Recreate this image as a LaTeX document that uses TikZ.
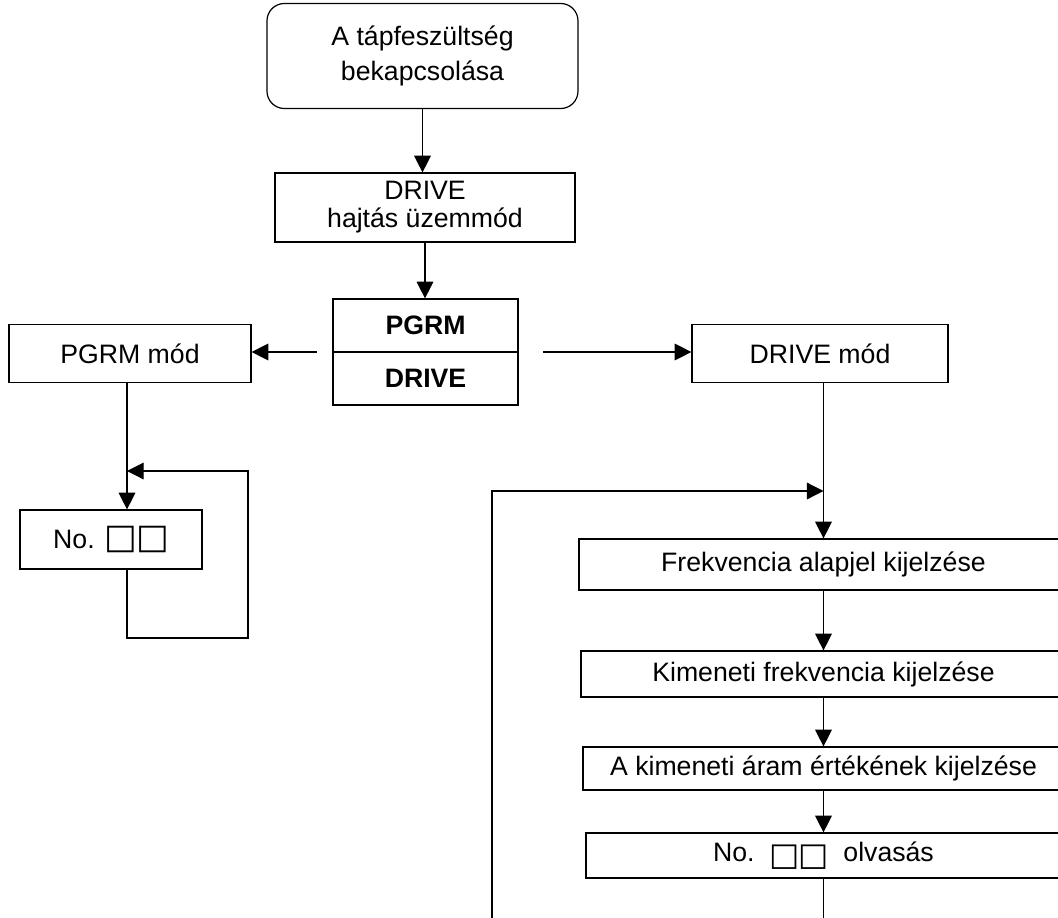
\documentclass[tikz,border=0pt]{standalone}
\usepackage{fontspec}
\setmainfont{Liberation Sans}
\newfontfamily\sqfont{DejaVu Sans}
\usetikzlibrary{arrows.meta}

\begin{document}
\begin{tikzpicture}[x=0.75pt,y=0.75pt,yscale=-1,xscale=1,
  box/.style={draw, line width=0.9pt, inner sep=0pt, align=center, font=\fontsize{20}{21}\selectfont},
  arr/.style={line width=0.9pt, -{Triangle[length=12.5pt,width=12.5pt]}},
  ln/.style={line width=0.9pt}]
\useasboundingbox (0,0) rectangle (1058,918);

% Text Node
\node[box, rounded corners=13pt, minimum width=233.25pt, minimum height=78.75pt, font=\fontsize{20}{26}\selectfont] (start) at (422.5,56) {A tápfeszültség\\bekapcsolása};
% Text Node
\node[box, minimum width=225pt, minimum height=51.75pt] (drive) at (425,207.5) {DRIVE\\hajtás üzemmód};
% Text Node
\node[box, minimum width=138.75pt, minimum height=39.75pt, font=\fontsize{20}{21}\selectfont\bfseries] (sela) at (425.5,325.5) {PGRM};
\node[box, minimum width=138.75pt, minimum height=39.75pt, font=\fontsize{20}{21}\selectfont\bfseries] (selb) at (425.5,378.5) {DRIVE};
% Text Node
\node[box, minimum width=181.5pt, minimum height=43.5pt] (pgrm) at (130,353.5) {PGRM mód};
% Text Node
\node[box, minimum width=192pt, minimum height=43.5pt] (drvm) at (820,353.5) {DRIVE mód};
% Text Node
\node[box, minimum width=136.5pt, minimum height=44.25pt] (no) at (111,539.5) {No. {\sqfont\fontsize{26}{21}\selectfont □\kern-1pt□}};
% Text Node
\node[box, minimum width=366.75pt, minimum height=38.25pt] (frek) at (823.5,564.5) {Frekvencia alapjel kijelzése};
\node[box, minimum width=363.75pt, minimum height=34.5pt] (kim) at (823.5,674) {Kimeneti frekvencia kijelzése};
\node[box, minimum width=360.75pt, minimum height=32.25pt] (aram) at (823.5,768.5) {A kimeneti áram értékének kijelzése};
\node[box, minimum width=356.25pt, minimum height=33.75pt] (olv) at (823.5,855.5) {No.\ \ \raisebox{-2.5pt}{\sqfont\fontsize{24}{21}\selectfont □\kern-1pt□}\ \ olvasás};

% Coordinates
\coordinate (l0) at (317,352);
\coordinate (r0) at (543,352);
\coordinate (jl) at (127,471);
\coordinate (lr) at (248,638);
\coordinate (jr) at (823.5,491);
\coordinate (rb) at (492,918);
\coordinate (ob) at (823.5,918);

% Connection
\draw[arr] (start) -- (start.south |- drive.north);
\draw[arr] (drive) -- (drive.south |- sela.north);
\draw[arr] (l0) -- (l0 -| pgrm.east);
\draw[arr] (r0) -- (r0 -| drvm.west);
% Connection
\draw[arr] (pgrm.south -| jl) -- (jl |- no.north);
\draw[arr] (no.south -| jl) |- (lr) |- (jl);
% Connection
\draw[arr] (drvm.south -| jr) -- (frek.north);
\draw[arr] (rb) |- (jr);
\draw[arr] (frek) -- (kim);
\draw[arr] (kim) -- (aram);
\draw[arr] (aram) -- (olv);
\draw[ln] (olv.south) -- (ob);

\end{tikzpicture}
\end{document}
